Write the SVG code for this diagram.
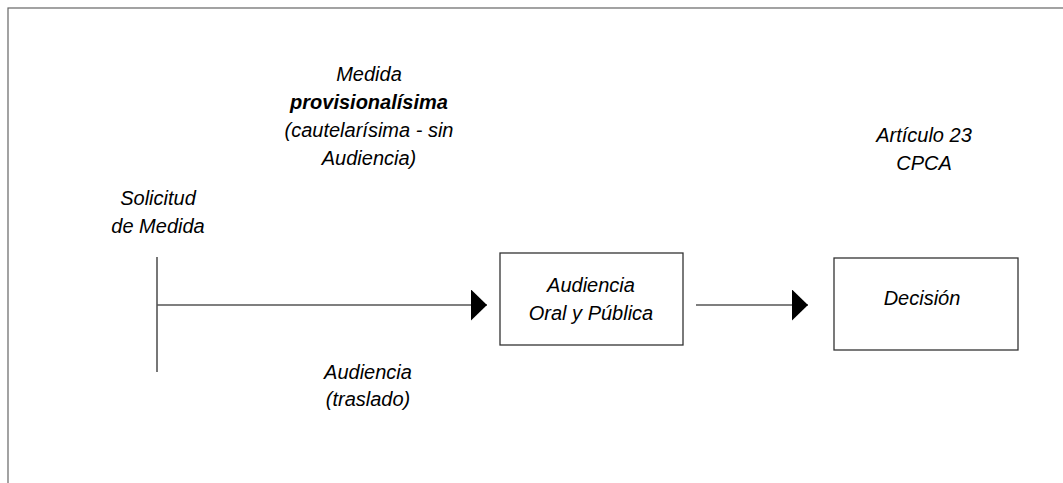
<svg xmlns="http://www.w3.org/2000/svg" width="1063" height="483" viewBox="0 0 1063 483">
<style>
text{font-family:"Liberation Sans",Arial,sans-serif;font-size:20px;font-style:italic;fill:#000;text-anchor:middle}
.b{font-weight:bold}
.box{fill:#fff;stroke:#333;stroke-width:1.3}
.ln{stroke:#555;stroke-width:1.6;fill:none}
.frame{fill:none;stroke:#666;stroke-width:1.2}
</style>
<defs>
<marker id="ah" markerWidth="16" markerHeight="31" refX="16" refY="15.5" markerUnits="userSpaceOnUse" orient="auto">
<path d="M0,0 L16,15.5 L0,31 Z" fill="#000"/>
</marker>
</defs>
<rect width="1063" height="483" fill="#fff"/>
<rect class="frame" x="8" y="8" width="1100" height="520"/>
<g id="connectors">
<line class="ln" x1="157" y1="257" x2="157" y2="372"/>
<line class="ln" x1="157" y1="305" x2="487" y2="305" marker-end="url(#ah)"/>
<line class="ln" x1="696" y1="305" x2="808" y2="305" marker-end="url(#ah)"/>
</g>
<g id="label-medida">
<text x="369" y="81">Medida</text>
<text x="369" y="109" class="b">provisionalísima</text>
<text x="369" y="137">(cautelarísima - sin</text>
<text x="369" y="165">Audiencia)</text>
</g>
<g id="label-solicitud">
<text x="158" y="205">Solicitud</text>
<text x="158" y="233">de Medida</text>
</g>
<g id="label-traslado">
<text x="368" y="379">Audiencia</text>
<text x="368" y="406">(traslado)</text>
</g>
<g id="label-articulo">
<text x="924" y="142">Artículo 23</text>
<text x="924" y="170">CPCA</text>
</g>
<g id="node-audiencia">
<rect class="box" x="500" y="253" width="183" height="92"/>
<text x="591" y="292">Audiencia</text>
<text x="591" y="320">Oral y Pública</text>
</g>
<g id="node-decision">
<rect class="box" x="834" y="258" width="184" height="92"/>
<text x="922" y="305">Decisión</text>
</g>
</svg>
